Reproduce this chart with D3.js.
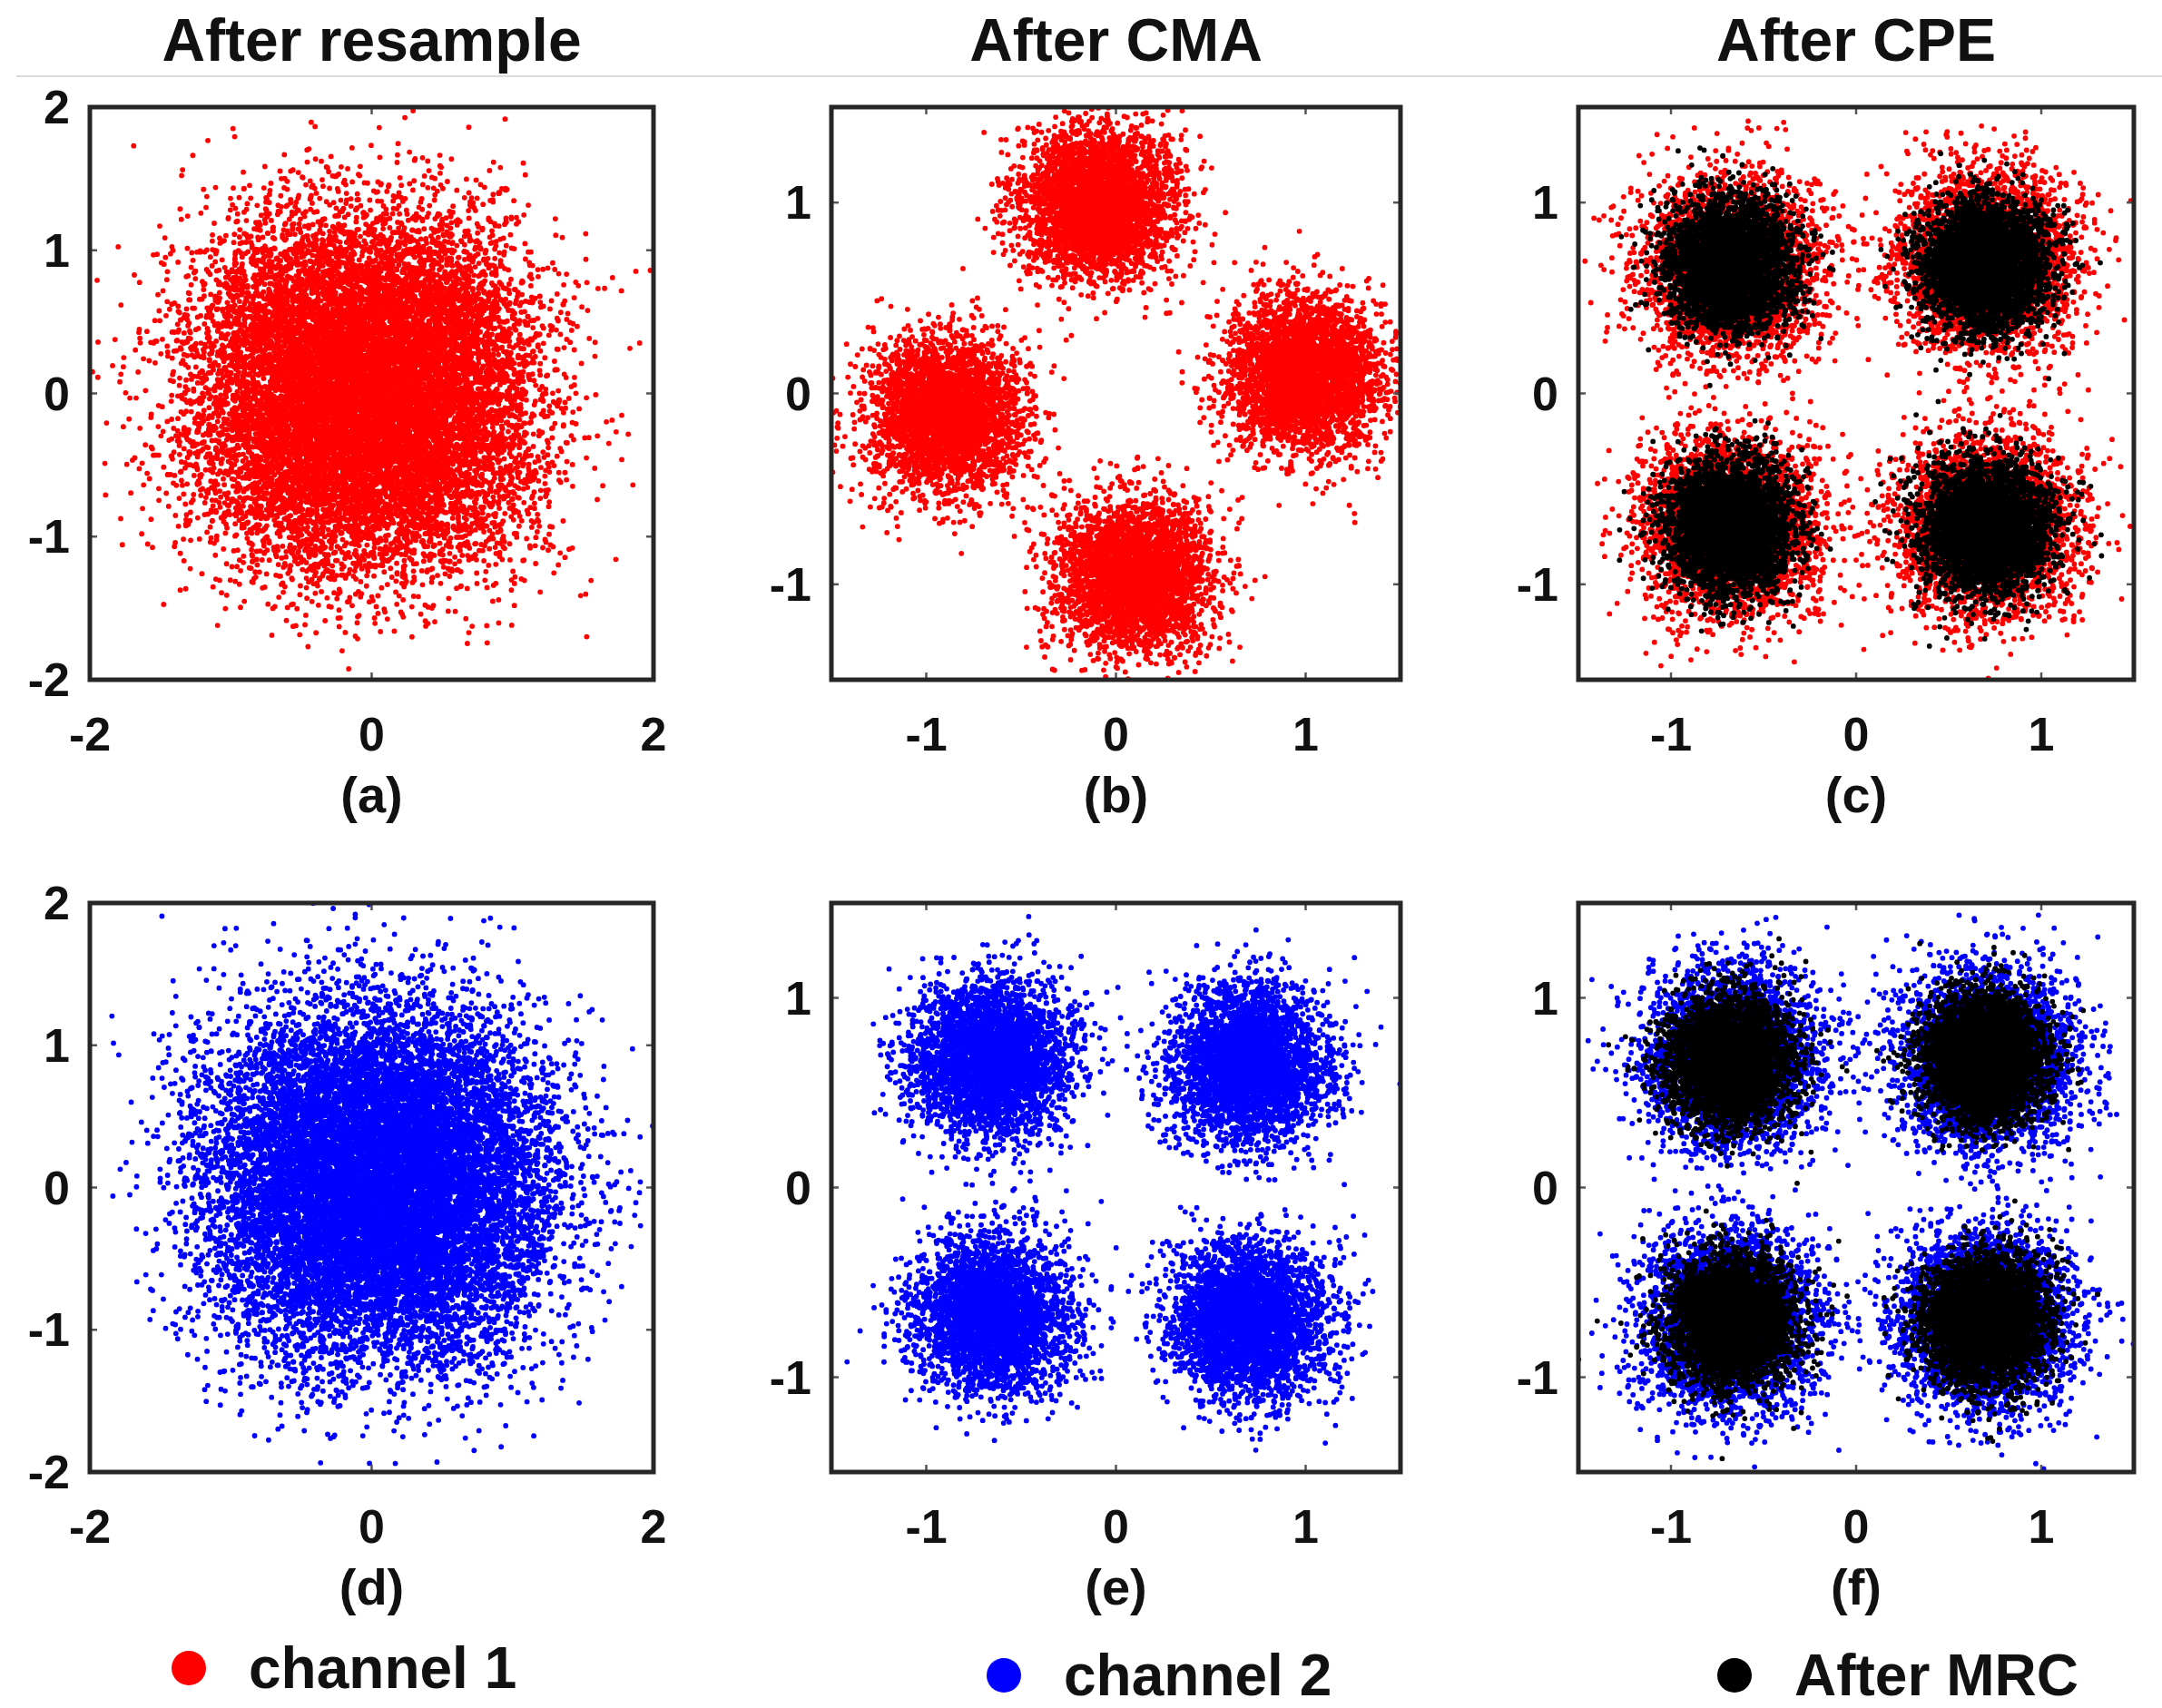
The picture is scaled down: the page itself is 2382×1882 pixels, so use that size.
<!DOCTYPE html>
<html>
<head>
<meta charset="utf-8">
<script src="https://cdn.jsdelivr.net/npm/d3@7"></script>
<style>
  html, body { margin: 0; padding: 0; background: #fff; }
  text { font-family: "Liberation Sans", Arial, sans-serif; font-weight: bold; fill: #111; }
</style>
</head>
<body>
<div id="chart"></div>
<script>
// column titles and panel labels
var columnTitles = ["After resample", "After CMA", "After CPE"];
var panelLabels = ["(a)", "(b)", "(c)", "(d)", "(e)", "(f)"];

// tick values
var ticksWide = [-2, -1, 0, 1, 2];
var ticksWideX = [-2, 0, 2];
var ticksNarrow = [-1, 0, 1];
var domainWide = [-2, 2];
var domainNarrow = [-1.5, 1.5];

// cloud centres [I, Q]
// the resampled clouds are a blur of the four QPSK points
var resampleCh1Centers = [[-0.42, 0.4], [0.34, 0.4], [-0.42, -0.38], [0.34, -0.38]];
var resampleCh2Centers = [[-0.32, 0.42], [0.42, 0.4], [-0.32, -0.36], [0.42, -0.36]];
var cmaCh1Centers = [[-0.1, 1.0], [1.0, 0.1], [0.1, -0.95], [-0.9, -0.12]];
var cmaCh2Centers = [[-0.65, 0.68], [0.7, 0.65], [-0.65, -0.67], [0.7, -0.7]];
var cpeCh1Centers = [[-0.68, 0.66], [0.7, 0.68], [-0.68, -0.7], [0.7, -0.7]];
var cpeCh2Centers = [[-0.66, 0.68], [0.7, 0.68], [-0.68, -0.7], [0.7, -0.7]];
var mrcCenters = [[-0.68, 0.67], [0.7, 0.68], [-0.68, -0.7], [0.7, -0.7]];

// noise spread (std dev) of each cloud
var resampleSpread = [0.46, 0.47];
var cmaSpread = [0.2, 0.2];
var cpeSpread = [0.23, 0.23];
var mrcSpread = [0.165];

// points per cloud
var resampleCount = 3600;
var clusterCount = 3500;
var mrcCount = 4000;

var seriesColors = { ch1: "#ff0000", ch2: "#0000ff", mrc: "#000000" };
var legendItems = [
  { label: "channel 1", color: seriesColors.ch1 },
  { label: "channel 2", color: seriesColors.ch2 },
  { label: "After MRC", color: seriesColors.mrc }
];

// panels: which clouds go in which box
var panels = [
  { row: 0, col: 0, wide: true,  layers: [{ centers: resampleCh1Centers, s: resampleSpread[0], n: resampleCount, c: "ch1" }] },
  { row: 0, col: 1, wide: false, layers: [{ centers: cmaCh1Centers, s: cmaSpread[0], n: clusterCount, c: "ch1" }] },
  { row: 0, col: 2, wide: false, layers: [{ centers: cpeCh1Centers, s: cpeSpread[0], n: clusterCount, c: "ch1" },
                                          { centers: mrcCenters, s: mrcSpread[0], n: mrcCount, c: "mrc" }] },
  { row: 1, col: 0, wide: true,  layers: [{ centers: resampleCh2Centers, s: resampleSpread[1], n: resampleCount, c: "ch2" }] },
  { row: 1, col: 1, wide: false, layers: [{ centers: cmaCh2Centers, s: cmaSpread[1], n: clusterCount, c: "ch2" }] },
  { row: 1, col: 2, wide: false, layers: [{ centers: cpeCh2Centers, s: cpeSpread[1], n: clusterCount, c: "ch2" },
                                          { centers: mrcCenters, s: mrcSpread[0], n: mrcCount, c: "mrc" }] }
];

var width = 2382, height = 1882;
var colLeft = [99, 916, 1739], colRight = [720, 1543, 2351];
var rowTop = [118, 995], rowBottom = [749, 1622];

var svg = d3.select("#chart").append("svg")
  .attr("width", width)
  .attr("height", height);

// thin rule under the titles
svg.append("line")
  .attr("x1", 18).attr("x2", width)
  .attr("y1", 84).attr("y2", 84)
  .attr("stroke", "#dcdcdc").attr("stroke-width", 2);

columnTitles.forEach(function(t, i) {
  svg.append("text")
    .attr("x", (colLeft[i] + colRight[i]) / 2)
    .attr("y", 67)
    .attr("text-anchor", "middle")
    .attr("font-size", 66)
    .text(t);
});

var seed = 7;

panels.forEach(function(p, idx) {
  var x0 = colLeft[p.col], x1 = colRight[p.col];
  var y0 = rowTop[p.row], y1 = rowBottom[p.row];
  var dom = p.wide ? domainWide : domainNarrow;

  var x = d3.scaleLinear().domain(dom).range([x0, x1]);
  var y = d3.scaleLinear().domain(dom).range([y1, y0]);

  var g = svg.append("g");

  g.append("clipPath").attr("id", "clip" + idx)
    .append("rect")
    .attr("x", x0).attr("y", y0)
    .attr("width", x1 - x0).attr("height", y1 - y0);

  var dots = g.append("g").attr("clip-path", "url(#clip" + idx + ")");

  p.layers.forEach(function(layer) {
    var rnd = d3.randomNormal.source(d3.randomLcg(seed++ / 97))(0, layer.s);
    var pts = [];
    layer.centers.forEach(function(c) {
      for (var k = 0; k < layer.n; k++) pts.push([c[0] + rnd(), c[1] + rnd()]);
    });
    // shuffle so the sub-clouds interleave like one scatter
    d3.shuffler(d3.randomLcg(0.31))(pts);
    dots.selectAll(null)
      .data(pts)
      .enter().append("circle")
      .attr("cx", function(d) { return x(d[0]); })
      .attr("cy", function(d) { return y(d[1]); })
      .attr("r", 2.9)
      .attr("fill", seriesColors[layer.c]);
  });

  var xt = p.wide ? ticksWideX : ticksNarrow;
  var yt = p.wide ? ticksWide : ticksNarrow;

  // inward ticks on all four sides
  var tl = 8;
  var tickStyle = function(sel) { sel.attr("stroke", "#555").attr("stroke-width", 2.5); };
  xt.forEach(function(v) {
    g.append("line").attr("x1", x(v)).attr("x2", x(v)).attr("y1", y1).attr("y2", y1 - tl).call(tickStyle);
    g.append("line").attr("x1", x(v)).attr("x2", x(v)).attr("y1", y0).attr("y2", y0 + tl).call(tickStyle);
  });
  yt.forEach(function(v) {
    g.append("line").attr("x1", x0).attr("x2", x0 + tl).attr("y1", y(v)).attr("y2", y(v)).call(tickStyle);
    g.append("line").attr("x1", x1).attr("x2", x1 - tl).attr("y1", y(v)).attr("y2", y(v)).call(tickStyle);
  });

  g.append("rect")
    .attr("x", x0).attr("y", y0)
    .attr("width", x1 - x0).attr("height", y1 - y0)
    .attr("fill", "none")
    .attr("stroke", "#262626")
    .attr("stroke-width", 5);

  g.selectAll(".xt").data(xt).enter().append("text")
    .attr("x", function(d) { return x(d); })
    .attr("y", y1 + 78)
    .attr("text-anchor", "middle")
    .attr("font-size", 52)
    .attr("fill", "#222")
    .text(function(d) { return d; });

  g.selectAll(".yt").data(yt).enter().append("text")
    .attr("x", x0 - 22)
    .attr("y", function(d) { return y(d) + 18; })
    .attr("text-anchor", "end")
    .attr("font-size", 52)
    .attr("fill", "#222")
    .text(function(d) { return d; });

  g.append("text")
    .attr("x", (x0 + x1) / 2)
    .attr("y", y1 + 146)
    .attr("text-anchor", "middle")
    .attr("font-size", 56)
    .text(panelLabels[idx]);
});

// legend along the bottom
var legendDotX = [208, 1106, 1911];
var legendDotY = [1838, 1846, 1846];
legendItems.forEach(function(item, i) {
  svg.append("circle")
    .attr("cx", legendDotX[i]).attr("cy", legendDotY[i])
    .attr("r", 19)
    .attr("fill", item.color);
  svg.append("text")
    .attr("x", legendDotX[i] + 66)
    .attr("y", legendDotY[i] + 22)
    .attr("font-size", 64)
    .text(item.label);
});
</script>
</body>
</html>
